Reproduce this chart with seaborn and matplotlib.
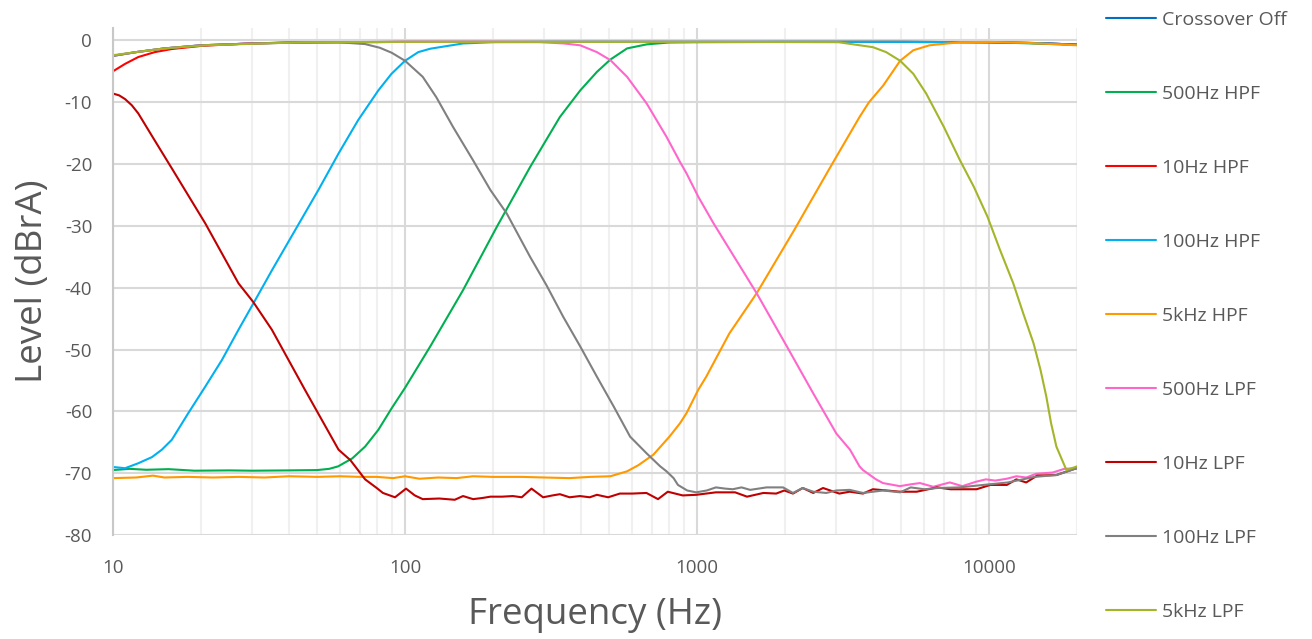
import numpy as np
import pandas as pd
import matplotlib
matplotlib.use("Agg")
import matplotlib.pyplot as plt
import seaborn as sns
from matplotlib.ticker import FixedLocator, LogLocator, NullFormatter


# --- values (frequency in Hz, level in dBrA) ---
off_f = [10, 12, 15, 20, 30, 50, 100, 1000, 5000, 10000, 15000, 20000]
off_db = [-2.5, -1.9, -1.3, -0.8, -0.5, -0.3, -0.25, -0.25, -0.25, -0.3, -0.45, -0.7]

hpf500_f = [10, 11.4, 13, 15.5, 19, 25, 30, 40, 50, 55, 59, 66, 73, 81, 90, 100, 122,
            158, 206, 268, 339, 398, 454, 505, 576, 672, 800, 1000, 2000, 5000, 10000, 20000]
hpf500_db = [-69.5, -69.3, -69.45, -69.35, -69.6, -69.55, -69.6, -69.55, -69.5, -69.3,
             -68.9, -67.6, -65.7, -63.0, -59.5, -56.2, -49.5, -40.4, -30.2, -20.5, -12.4,
             -8.1, -5.1, -3.1, -1.3, -0.65, -0.35, -0.3, -0.25, -0.25, -0.3, -0.7]

hpf10_f = [10, 11, 12.2, 13.9, 15.9, 20, 25, 30, 40, 60, 100, 1000, 5000, 10000, 15000, 20000]
hpf10_db = [-5.0, -3.8, -2.7, -1.9, -1.4, -0.9, -0.65, -0.5, -0.35, -0.3, -0.25, -0.25,
            -0.25, -0.3, -0.45, -0.7]

hpf100_f = [10, 11, 12.2, 13.6, 14.7, 15.9, 18.1, 20.7, 23.6, 26.9, 30.7, 35, 50.5, 59.2,
            69.1, 81, 89.9, 100, 111, 122, 158, 200, 300, 1000, 5000, 10000, 15000, 20000]
hpf100_db = [-69.0, -69.2, -68.4, -67.4, -66.2, -64.6, -60.3, -56.0, -51.7, -46.8, -42.0,
             -37.2, -24.2, -18.3, -12.9, -8.1, -5.4, -3.3, -1.9, -1.35, -0.5, -0.3, -0.25,
             -0.25, -0.25, -0.3, -0.45, -0.7]

hpf5k_f = [10, 12, 13.7, 15, 18, 22, 27, 33, 40, 50, 60, 70, 80, 91, 100, 112, 130, 150,
           171, 200, 250, 300, 366, 430, 505, 576, 630, 709, 804, 875, 920, 1010, 1075,
           1290, 1600, 2150, 2860, 3600, 3880, 4340, 4960, 5500, 6250, 7950, 10000, 13400,
           20000]
hpf5k_db = [-70.8, -70.7, -70.4, -70.7, -70.6, -70.7, -70.6, -70.7, -70.5, -70.6, -70.5,
            -70.6, -70.6, -70.8, -70.5, -70.9, -70.7, -70.8, -70.5, -70.6, -70.6, -70.7,
            -70.8, -70.6, -70.5, -69.7, -68.7, -67.0, -64.1, -61.9, -60.3, -56.5, -54.4,
            -47.4, -40.9, -30.7, -20.5, -12.4, -10.0, -7.3, -3.3, -1.6, -0.8, -0.3, -0.25,
            -0.4, -0.8]

lpf500_f = [10, 12, 15, 20, 30, 50, 100, 200, 290, 350, 398, 454, 505, 576, 672, 786, 875,
            920, 1010, 1139, 1600, 2030, 2500, 3000, 3340, 3600, 3700, 4100, 4330, 4950,
            5400, 5800, 6440, 7340, 8100, 9000, 9750, 10500, 11500, 12400, 13400, 14500,
            16500, 18100, 20000]
lpf500_db = [-2.5, -1.9, -1.3, -0.8, -0.5, -0.3, -0.25, -0.25, -0.3, -0.5, -0.8, -1.9,
             -3.2, -5.9, -10.2, -15.6, -19.7, -21.5, -25.3, -29.6, -40.9, -49.5, -57.1,
             -63.6, -66.2, -68.9, -69.5, -71.0, -71.6, -72.1, -71.8, -71.6, -72.2, -71.5,
             -72.1, -71.4, -71.0, -71.2, -70.9, -70.5, -70.7, -70.1, -69.9, -69.3, -69.2]

lpf10_f = [10, 10.5, 11, 11.6, 12.2, 13.9, 15.9, 20.7, 26.9, 30.2, 35, 45.4, 59.2, 65, 73,
           80, 84, 92.4, 100.8, 108, 115, 131, 148, 158, 171, 185, 196, 215, 234, 251, 271,
           297, 320, 339, 366, 397, 429, 454, 496, 544, 600, 671, 735, 794, 893, 993, 1160,
           1350, 1483, 1687, 1866, 1990, 2130, 2300, 2500, 2700, 3070, 3330, 3700, 4000,
           4960, 5650, 6640, 7370, 9060, 10100, 11500, 12400, 13400, 14600, 17000, 19600,
           20000]
lpf10_db = [-8.6, -8.9, -9.5, -10.5, -11.8, -16.2, -20.7, -29.6, -39.3, -42.3, -46.8,
            -56.5, -66.2, -67.9, -71.0, -72.4, -73.2, -73.9, -72.5, -73.6, -74.2, -74.1,
            -74.3, -73.7, -74.2, -74.0, -73.8, -73.8, -73.7, -73.9, -72.5, -73.9, -73.6,
            -73.4, -73.9, -73.7, -73.9, -73.5, -73.9, -73.3, -73.3, -73.2, -74.2, -73.0,
            -73.6, -73.5, -73.1, -73.1, -73.8, -73.2, -73.3, -72.8, -73.3, -72.4, -73.2,
            -72.4, -73.3, -73.0, -73.3, -72.6, -73.0, -73.0, -72.3, -72.6, -72.6, -71.9,
            -71.9, -71.0, -71.5, -70.4, -70.3, -69.3, -69.2]

lpf100_f = [10, 12, 15, 20, 30, 45, 59, 73, 82, 90, 100, 115, 128, 146, 171, 196, 223, 268,
            305, 348, 398, 454, 518, 590, 672, 748, 786, 831, 860, 925, 993, 1080, 1160,
            1250, 1325, 1420, 1520, 1730, 1970, 2130, 2300, 2500, 2770, 3000, 3330, 3700,
            4340, 4960, 5390, 6000, 6640, 7920, 9560, 11600, 14300, 17000, 20000]
lpf100_db = [-2.5, -1.9, -1.3, -0.8, -0.5, -0.3, -0.3, -0.6, -1.2, -2.0, -3.3, -5.9, -9.2,
             -14.0, -19.4, -24.2, -28.0, -35.0, -39.6, -44.7, -49.5, -54.4, -59.2, -64.1,
             -66.8, -68.9, -69.7, -70.8, -71.9, -72.8, -73.1, -72.8, -72.3, -72.5, -72.6,
             -72.3, -72.7, -72.3, -72.3, -73.2, -72.4, -73.0, -73.2, -72.8, -72.7, -73.2,
             -72.8, -73.1, -72.3, -72.6, -72.4, -72.3, -71.9, -71.5, -70.6, -70.3, -69.2]

lpf5k_f = [10, 12, 13.9, 16, 20.7, 30.7, 45, 100, 1000, 3050, 4000, 4440, 4960, 5500, 6090,
           7000, 7950, 8870, 9870, 10900, 12100, 13100, 14200, 15000, 15700, 16300, 17000,
           18400, 20000]
lpf5k_db = [-2.4, -1.9, -1.5, -1.2, -0.8, -0.54, -0.3, -0.25, -0.25, -0.3, -1.1, -1.9,
            -3.3, -5.4, -8.6, -14.0, -19.4, -23.7, -28.5, -33.9, -39.3, -44.2, -49.0, -53.3,
            -57.6, -61.9, -65.7, -69.5, -68.9]

series_names = ["Crossover Off", "500Hz HPF", "10Hz HPF", "100Hz HPF", "5kHz HPF",
                "500Hz LPF", "10Hz LPF", "100Hz LPF", "5kHz LPF"]
series_data = [(off_f, off_db), (hpf500_f, hpf500_db), (hpf10_f, hpf10_db),
               (hpf100_f, hpf100_db), (hpf5k_f, hpf5k_db), (lpf500_f, lpf500_db),
               (lpf10_f, lpf10_db), (lpf100_f, lpf100_db), (lpf5k_f, lpf5k_db)]
colors = ["#0070C0", "#00B050", "#FF0000", "#00B0F0", "#FF9900",
          "#FF66CC", "#C00000", "#808080", "#A5B52A"]

x_ticks = [10, 100, 1000, 10000]
y_ticks = [0, -10, -20, -30, -40, -50, -60, -70, -80]


frames = []
for name, (f, db) in zip(series_names, series_data):
    frames.append(pd.DataFrame({"Frequency": f, "Level": db, "Series": name}))
df = pd.concat(frames, ignore_index=True)

sns.set_style("white")
plt.rcParams["font.family"] = ["Open Sans", "DejaVu Sans"]

txt = "#595959"
fig = plt.figure(figsize=(13.12, 6.39), dpi=100)
ax = fig.add_axes([113 / 1312, 1 - 535 / 639, (1077 - 113) / 1312, (535 - 28) / 639])

sns.lineplot(data=df, x="Frequency", y="Level", hue="Series", hue_order=series_names,
             palette=dict(zip(series_names, colors)), estimator=None, linewidth=1.5,
             legend=False, ax=ax)

ax.set_xscale("log")
ax.set_xlim(10, 20000)
ax.set_ylim(-80, 2)
ax.xaxis.set_major_locator(FixedLocator(x_ticks))
ax.set_xticklabels([str(t) for t in x_ticks])
ax.xaxis.set_minor_locator(LogLocator(base=10, subs=np.arange(2, 10)))
ax.xaxis.set_minor_formatter(NullFormatter())
ax.set_yticks(y_ticks)
ax.set_yticklabels([str(t) for t in y_ticks])

ax.grid(which="major", axis="both", color="#D9D9D9", linewidth=1.5, zorder=0)
ax.grid(which="minor", axis="x", color="#F0F0F0", linewidth=1.5, zorder=0)
ax.set_axisbelow(True)
for s in ["top", "right", "bottom"]:
    ax.spines[s].set_visible(False)
ax.spines["left"].set_color("#C8C8C8")
ax.spines["left"].set_linewidth(1.5)

ax.tick_params(axis="both", which="both", length=0, labelsize=13.5, labelcolor=txt)
ax.tick_params(axis="y", pad=15)
ax.tick_params(axis="x", pad=17)

ax.set_xlabel("Frequency (Hz)", fontsize=26.5, color=txt, labelpad=15)
ax.set_ylabel("Level (dBrA)", fontsize=26.5, color=txt, labelpad=10)

fig.legend(ax.lines, series_names, loc="upper left", bbox_to_anchor=(1096 / 1312, 0.998),
           frameon=False, fontsize=14, labelcolor=txt, handlelength=2.6,
           handletextpad=0.3, labelspacing=2.88, borderpad=0.0)

fig.savefig("out.png", dpi=100)
